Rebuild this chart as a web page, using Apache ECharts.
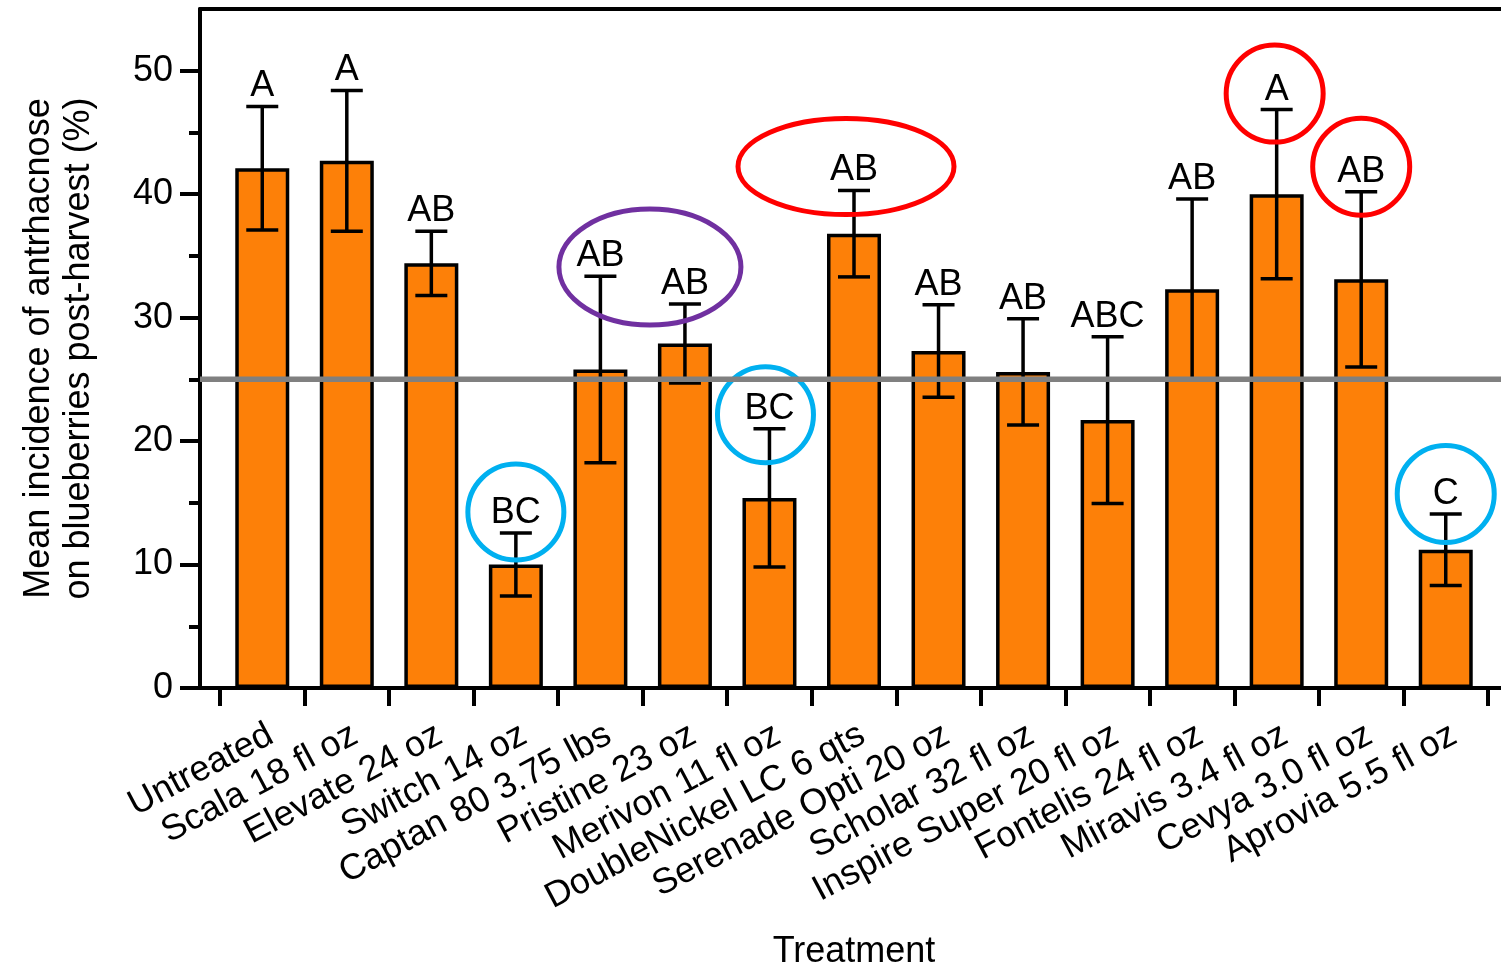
<!DOCTYPE html>
<html>
<head>
<meta charset="utf-8">
<script src="https://cdn.jsdelivr.net/npm/echarts@6/dist/echarts.min.js"></script>
<style>
html,body{margin:0;padding:0;background:#fff;}
#chart{width:1501px;height:963px;}
</style>
</head>
<body>
<div id="chart"></div>
<script>
// ---- data ----
const categories = ['Untreated','Scala 18 fl oz','Elevate 24 oz','Switch 14 oz','Captan 80 3.75 lbs','Pristine 23 oz','Merivon 11 fl oz','DoubleNickel LC 6 qts','Serenade Opti 20 oz','Scholar 32 fl oz','Inspire Super 20 fl oz','Fontelis 24 fl oz','Miravis 3.4 fl oz','Cevya 3.0 fl oz','Aprovia 5.5 fl oz'];
const means  = [42.1, 42.7, 34.4, 10.0, 25.8, 27.9, 15.4, 36.8, 27.3, 25.6, 21.7, 32.3, 40.0, 33.1, 11.2];
const errors = [5.0, 5.7, 2.6, 2.55, 7.55, 3.2, 5.6, 3.5, 3.75, 4.3, 6.75, 7.3, 6.85, 7.1, 2.9];
const letters = ['A','A','AB','BC','AB','AB','BC','AB','AB','AB','ABC','AB','A','AB','C'];
const referenceLine = 25;
const yTicks = [0, 10, 20, 30, 40, 50];
const yMinorTicks = [5, 15, 25, 35, 45];
const yMax = 55;
// highlighted treatments (index of treatment, highlight colour)
const highlightIdx    = [3, 5, 6, 7, 12, 13, 14];
const highlightColors = ['#00B0F0', '#7030A0', '#00B0F0', '#FF0000', '#FF0000', '#FF0000', '#00B0F0'];

// ---- drawing ----
const FONT = 'Liberation Sans, Arial, Helvetica, sans-serif';
// decoration geometry for each highlight ring (offset from error-bar top, radii)
const ringGeom = [
  {dx: 0,   dy: -21, rx: 48,  ry: 48},
  {dx: -35, dy: -37, rx: 91,  ry: 58},
  {dx: -4,  dy: -14, rx: 48,  ry: 48},
  {dx: -8,  dy: -24, rx: 108, ry: 48},
  {dx: -2,  dy: -16, rx: 48.5, ry: 48.5},
  {dx: 0,   dy: -25, rx: 48.5, ry: 48.5},
  {dx: 0,   dy: -20, rx: 48.5, ry: 48.5}
];

const chart = echarts.init(document.getElementById('chart'), null, {renderer: 'canvas'});

const errData = categories.map((c, i) => [i, means[i], errors[i]]);
const ringData = highlightIdx.map((idx, k) => [idx, means[idx] + errors[idx], k]);

const option = {
  animation: false,
  backgroundColor: '#fff',
  grid: [
    {left: 220, right: 13, top: 9, bottom: 275, containLabel: false, outerBoundsMode: 'none'},
    {left: 200, right: 0, top: 9, bottom: 275, containLabel: false, outerBoundsMode: 'none'}
  ],
  xAxis: [
    {
      gridIndex: 0, type: 'category', data: categories, boundaryGap: true,
      axisLine: {show: false, onZero: false},
      axisTick: {show: true, interval: 0, length: 18, lineStyle: {width: 4, color: '#000'}},
      axisLabel: {interval: 0, rotate: 28, fontSize: 36, color: '#000', fontFamily: FONT, margin: 29, verticalAlign: 'top'},
      name: 'Treatment', nameLocation: 'middle', nameGap: 246,
      nameTextStyle: {fontSize: 36, color: '#000', fontFamily: FONT}
    },
    {
      gridIndex: 1, type: 'value', min: 0, max: 1, position: 'bottom',
      axisLine: {show: true, onZero: false, lineStyle: {width: 4, color: '#000'}},
      axisTick: {show: false}, axisLabel: {show: false}, splitLine: {show: false}
    },
    {
      gridIndex: 1, type: 'value', min: 0, max: 1, position: 'top',
      axisLine: {show: true, onZero: false, lineStyle: {width: 4, color: '#000'}},
      axisTick: {show: false}, axisLabel: {show: false}, splitLine: {show: false}
    }
  ],
  yAxis: [
    {gridIndex: 0, type: 'value', min: 0, max: yMax, show: false, splitLine: {show: false}},
    {
      gridIndex: 1, type: 'value', min: 0, max: yMax, position: 'left',
      axisLine: {show: true, onZero: false, lineStyle: {width: 4, color: '#000'}},
      axisTick: {show: true, customValues: yTicks, length: 20, lineStyle: {width: 4, color: '#000'}},
      axisLabel: {show: true, customValues: yTicks, fontSize: 36, color: '#000', fontFamily: FONT, margin: 27},
      splitLine: {show: false},
      name: 'Mean incidence of antrhacnose\non blueberries post-harvest (%)',
      nameLocation: 'middle', nameGap: 101,
      nameTextStyle: {fontSize: 36, color: '#000', fontFamily: FONT, lineHeight: 40}
    },
    {
      gridIndex: 1, type: 'value', min: 0, max: yMax, position: 'left',
      axisLine: {show: false, onZero: false},
      axisTick: {show: true, customValues: yMinorTicks, length: 11, lineStyle: {width: 4, color: '#000'}},
      axisLabel: {show: false}, splitLine: {show: false}
    }
  ],
  series: [
    {
      type: 'bar', xAxisIndex: 0, yAxisIndex: 0, data: means, barWidth: 54, z: 2,
      itemStyle: {color: '#FD8008', borderColor: '#000', borderWidth: 3.5}
    },
    {
      type: 'custom', xAxisIndex: 0, yAxisIndex: 0, data: errData, z: 3, silent: true,
      renderItem: function (params, api) {
        const i = api.value(0), m = api.value(1), e = api.value(2);
        const top = api.coord([i, m + e]);
        const bot = api.coord([i, m - e]);
        const hw = 16;
        const ls = {stroke: '#000', lineWidth: 3.5};
        return {
          type: 'group',
          children: [
            {type: 'line', shape: {x1: top[0], y1: top[1], x2: bot[0], y2: bot[1]}, style: ls},
            {type: 'line', shape: {x1: top[0] - hw, y1: top[1], x2: top[0] + hw, y2: top[1]}, style: ls},
            {type: 'line', shape: {x1: bot[0] - hw, y1: bot[1], x2: bot[0] + hw, y2: bot[1]}, style: ls},
            {type: 'text', x: top[0], y: top[1] - 2,
             style: {text: letters[params.dataIndex], fill: '#000', font: '36px ' + FONT, align: 'center', verticalAlign: 'bottom'}}
          ]
        };
      }
    },
    {
      type: 'custom', xAxisIndex: 0, yAxisIndex: 0, data: ringData, z: 4, silent: true,
      renderItem: function (params, api) {
        const k = api.value(2);
        const p = api.coord([api.value(0), api.value(1)]);
        const g = ringGeom[k];
        return {
          type: 'ellipse',
          shape: {cx: p[0] + g.dx, cy: p[1] + g.dy, rx: g.rx, ry: g.ry},
          style: {fill: 'none', stroke: highlightColors[k], lineWidth: 5}
        };
      }
    },
    {
      type: 'custom', xAxisIndex: 1, yAxisIndex: 1, data: [[0, referenceLine]], z: 6, silent: true,
      renderItem: function (params, api) {
        const a = api.coord([0, api.value(1)]);
        const b = api.coord([1, api.value(1)]);
        return {type: 'line', shape: {x1: a[0], y1: a[1], x2: b[0], y2: b[1]}, style: {stroke: '#808080', lineWidth: 5.5}};
      }
    }
  ]
};
chart.setOption(option);
</script>
</body>
</html>
